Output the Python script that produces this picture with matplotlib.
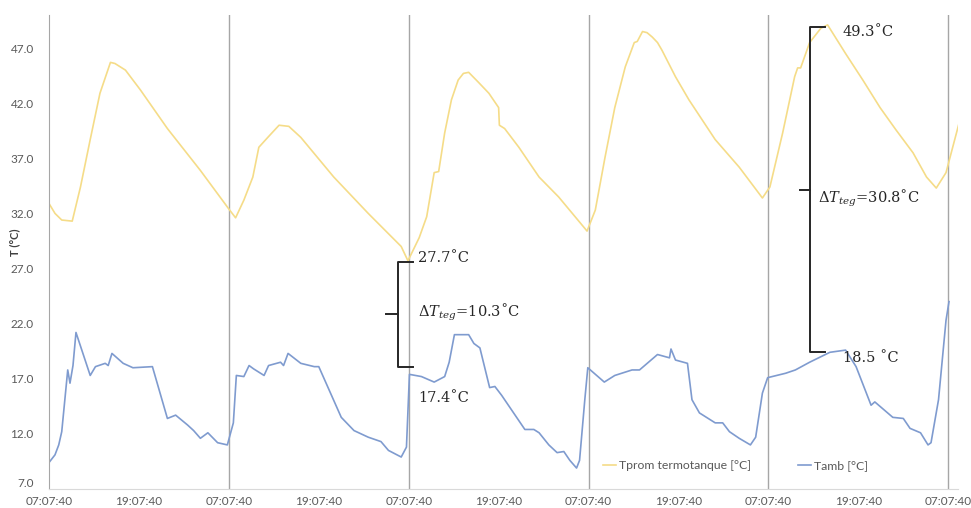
import matplotlib
matplotlib.use('Agg')
import matplotlib.pyplot as plt
import numpy as np

plt.rcParams['mathtext.fontset']='dejavuserif'

# hours since 07:07:40 on day 1
t_tank=[0.0,0.8,1.7,3.1,4.2,5.5,6.8,8.2,8.8,10.2,12.2,15.8,20.2,24.0,24.9,
        26.0,27.2,28.0,29.2,30.7,32.0,33.6,38.0,42.6,47.0,47.9,
        49.4,50.4,51.4,52.0,52.8,53.7,54.6,55.3,56.0,57.3,58.7,60.0,60.1,60.8,62.7,65.4,68.0,71.8,
        72.9,74.2,75.5,76.9,78.1,78.5,79.2,79.8,80.5,81.2,81.8,83.6,85.4,88.9,92.1,95.2,
        96.2,97.9,99.5,99.9,100.3,101.5,103.0,103.9,106.3,108.6,110.9,113.0,115.3,117.1,118.4,119.7,121.6]
T_tank=[32.9,32.0,31.4,31.3,34.4,38.7,42.9,45.7,45.6,45.0,43.2,39.7,35.9,32.4,31.6,
        33.2,35.3,38.0,38.9,40.0,39.9,38.9,35.3,32.0,29.0,27.7,
        29.8,31.7,35.7,35.8,39.3,42.3,44.1,44.7,44.8,43.9,42.9,41.6,40.0,39.7,38.0,35.3,33.5,30.4,
        32.3,37.1,41.6,45.3,47.5,47.6,48.5,48.4,48.0,47.5,46.8,44.4,42.3,38.7,36.2,33.4,
        34.4,39.3,44.4,45.2,45.2,47.5,48.8,49.1,46.5,44.1,41.6,39.6,37.5,35.3,34.3,35.7,40.6]

t_amb=[0.0,0.8,1.3,1.7,2.5,2.8,3.2,3.6,5.5,6.2,7.5,7.9,8.4,9.9,11.2,13.8,15.8,16.9,18.5,19.3,20.2,21.2,22.5,23.8,
       24.6,25.0,26.0,26.7,27.3,28.7,29.3,30.9,31.3,31.9,33.6,35.4,36.0,39.0,40.7,42.6,44.3,45.3,47.0,47.7,48.1,
       49.7,51.4,52.8,53.4,54.1,56.0,56.7,57.5,58.8,59.5,60.4,63.5,64.7,65.4,66.7,67.8,68.7,69.5,70.4,70.8,71.5,71.9,
       74.1,75.5,77.8,78.8,81.2,82.8,83.0,83.6,85.2,85.8,86.8,88.9,89.9,90.8,92.1,93.6,94.3,95.2,95.9,
       98.3,99.6,101.5,104.2,106.3,107.7,109.7,110.2,112.6,114.0,114.9,116.3,117.3,117.7,118.7,119.7,120.1]
T_amb=[9.4,10.1,11.0,12.2,17.8,16.6,18.2,21.2,17.3,18.1,18.4,18.2,19.3,18.4,18.0,18.1,13.4,13.7,12.8,12.3,11.6,12.1,11.2,11.0,
       13.0,17.3,17.2,18.2,17.9,17.3,18.2,18.5,18.2,19.3,18.4,18.1,18.1,13.5,12.3,11.7,11.3,10.5,9.9,10.8,17.4,
       17.2,16.7,17.2,18.5,21.0,21.0,20.2,19.8,16.2,16.3,15.5,12.4,12.4,12.1,11.0,10.3,10.4,9.6,8.9,9.6,15.1,18.0,
       16.7,17.3,17.8,17.8,19.2,18.9,19.7,18.7,18.4,15.1,13.9,13.0,13.0,12.2,11.6,11.0,11.7,15.7,17.1,
       17.5,17.8,18.5,19.4,19.6,18.1,14.6,14.9,13.5,13.4,12.5,12.1,11.0,11.2,15.1,22.3,24.0]

xticks=np.arange(0,121,12)
xlabels=['07:07:40' if i%2==0 else '19:07:40' for i in range(len(xticks))]
yticks=[7.0,12.0,17.0,22.0,27.0,32.0,37.0,42.0,47.0]

fig=plt.figure(figsize=(9.71,5.08),dpi=100)
ax=fig.add_axes([49/971,19/508,909/971,474/508])

ax.plot(t_tank,T_tank,color='#F5DC88',linewidth=1.2,label='Tprom termotanque [°C]')
ax.plot(t_amb,T_amb,color='#7F9BCF',linewidth=1.2,label='Tamb [°C]')

ax.set_xlim(0,121.3)
ax.set_ylim(7,50)
ax.set_xticks(xticks)
ax.set_xticklabels(xlabels)
ax.set_yticks(yticks)
ax.set_yticklabels(['%.1f' % v for v in yticks])
for d in range(24,121,24):
    ax.axvline(d,color='#A6A6A6',linewidth=1.0,zorder=0)
ax.tick_params(axis='both',length=0,labelsize=8.5,colors='#595959')
ax.tick_params(axis='y',pad=11)
ax.tick_params(axis='x',pad=5)
for lab in ax.get_xticklabels()+ax.get_yticklabels():
    lab.set_family('Lato')
# lift the lowest y label a little so it clears the first time label
ax.get_yticklabels()[0].set_verticalalignment('bottom')
for s in ['top','right']:
    ax.spines[s].set_visible(False)
ax.spines['left'].set_color('#A6A6A6')
ax.spines['bottom'].set_color('#D9D9D9')

ax.set_ylabel('T (°C)',fontsize=8,fontweight='bold',color='#404040',family='Lato')
ax.yaxis.set_label_coords(-0.032,0.52)

# braces
def brace(x,x_serif,x_tick,y0,y1):
    ym=(y0+y1)/2
    ax.plot([x_serif,x,x,x_serif],[y1,y1,y0,y0],color='#262626',linewidth=1.4)
    ax.plot([x,x_tick],[ym,ym],color='#262626',linewidth=1.4)

brace(46.6,48.6,45.0,18.1,27.6)
brace(101.6,103.5,100.2,19.4,48.9)

fs=10.5
kw=dict(fontsize=fs,family='DejaVu Serif',va='center',color='#262626')
ax.text(49.3,28.0,'27.7˚C',**kw)
ax.text(49.3,23.0,r'$\Delta T_{teg}$=10.3˚C',**kw)
ax.text(49.3,15.3,'17.4˚C',**kw)
ax.text(105.9,48.5,'49.3˚C',**kw)
ax.text(102.6,33.4,r'$\Delta T_{teg}$=30.8˚C',**kw)
ax.text(105.9,18.9,'18.5 ˚C',**kw)

leg=ax.legend(loc='lower left',bbox_to_anchor=(0.597,0.015),ncol=2,frameon=False,
              handlelength=1.1,handletextpad=0.25,columnspacing=3.8,
              prop={'family':'Lato','size':8.8})
for txt in leg.get_texts():
    txt.set_color('#595959')

plt.savefig('out.png',dpi=100)
